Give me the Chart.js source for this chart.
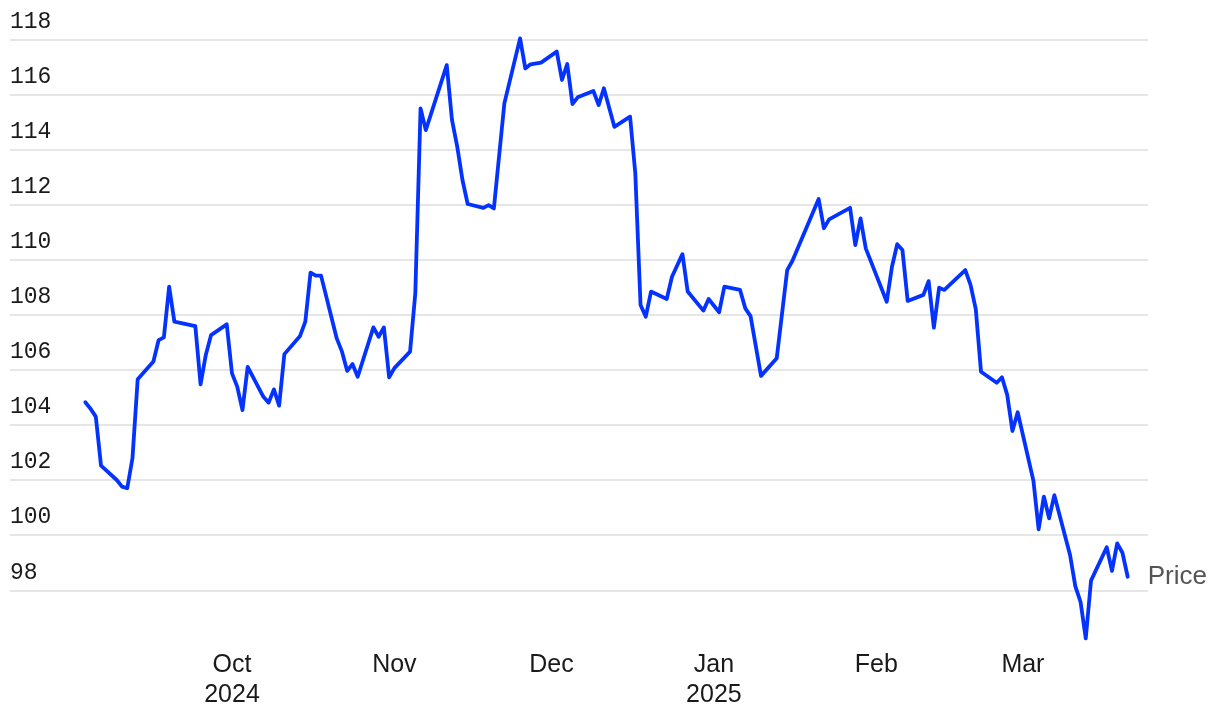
<!doctype html>
<html lang="en">

<head>
  <meta charset="utf-8">
  <title>Price</title>
  <script src="https://cdn.jsdelivr.net/npm/chart.js"></script>
  <style>
    body { margin: 0; background: #fff; }
    #wrap { width: 1220px; height: 718px; }
  </style>
</head>

<body>
  <div id="wrap"><canvas id="price"></canvas></div>

  <script>
    // daily closes
    const dates = [
      '2024-09-03', '2024-09-04', '2024-09-05', '2024-09-06', '2024-09-09', '2024-09-10', '2024-09-11', '2024-09-12',
      '2024-09-13', '2024-09-16', '2024-09-17', '2024-09-18', '2024-09-19', '2024-09-20', '2024-09-24', '2024-09-25',
      '2024-09-26', '2024-09-27', '2024-09-30', '2024-10-01', '2024-10-02', '2024-10-03', '2024-10-04', '2024-10-07',
      '2024-10-08', '2024-10-09', '2024-10-10', '2024-10-11', '2024-10-14', '2024-10-15', '2024-10-16', '2024-10-17',
      '2024-10-18', '2024-10-21', '2024-10-22', '2024-10-23', '2024-10-24', '2024-10-25', '2024-10-28', '2024-10-29',
      '2024-10-30', '2024-10-31', '2024-11-01', '2024-11-04', '2024-11-05', '2024-11-06', '2024-11-07', '2024-11-11',
      '2024-11-12', '2024-11-13', '2024-11-14', '2024-11-15', '2024-11-18', '2024-11-19', '2024-11-20', '2024-11-22',
      '2024-11-25', '2024-11-26', '2024-11-27', '2024-11-29', '2024-12-02', '2024-12-03', '2024-12-04', '2024-12-05',
      '2024-12-06', '2024-12-09', '2024-12-10', '2024-12-11', '2024-12-13', '2024-12-16', '2024-12-17', '2024-12-18',
      '2024-12-19', '2024-12-20', '2024-12-23', '2024-12-24', '2024-12-26', '2024-12-27', '2024-12-30', '2024-12-31',
      '2025-01-02', '2025-01-03', '2025-01-06', '2025-01-07', '2025-01-08', '2025-01-10', '2025-01-13', '2025-01-15',
      '2025-01-16', '2025-01-21', '2025-01-22', '2025-01-23', '2025-01-27', '2025-01-28', '2025-01-29', '2025-01-30',
      '2025-02-03', '2025-02-04', '2025-02-05', '2025-02-06', '2025-02-07', '2025-02-10', '2025-02-11', '2025-02-12',
      '2025-02-13', '2025-02-14', '2025-02-18', '2025-02-19', '2025-02-20', '2025-02-21', '2025-02-24', '2025-02-25',
      '2025-02-26', '2025-02-27', '2025-02-28', '2025-03-03', '2025-03-04', '2025-03-05', '2025-03-06', '2025-03-07',
      '2025-03-10', '2025-03-11', '2025-03-12', '2025-03-13', '2025-03-14', '2025-03-17', '2025-03-18', '2025-03-19',
      '2025-03-20', '2025-03-21'
    ]
    const prices = [
      104.83, 104.60, 104.31, 102.53, 102.01, 101.77, 101.71, 102.80,
      105.67, 106.31, 107.09, 107.19, 109.03, 107.76, 107.60, 105.48,
      106.55, 107.27, 107.66, 105.88, 105.40, 104.55, 106.12, 105.03,
      104.82, 105.30, 104.71, 106.58, 107.24, 107.76, 109.54, 109.43,
      109.43, 107.15, 106.67, 105.97, 106.22, 105.76, 107.55, 107.21,
      107.55, 105.74, 106.07, 106.67, 108.79, 115.50, 114.71, 117.07,
      115.08, 114.11, 112.90, 112.03, 111.89, 111.99, 111.87, 115.68,
      118.04, 116.95, 117.10, 117.16, 117.56, 116.53, 117.11, 115.66,
      115.90, 116.13, 115.62, 116.23, 114.83, 115.20, 113.14, 108.36,
      107.94, 108.85, 108.58, 109.39, 110.21, 108.85, 108.16, 108.58,
      108.10, 109.03, 108.91, 108.24, 107.96, 105.79, 106.43, 109.63,
      109.97, 112.21, 111.15, 111.47, 111.89, 110.54, 111.51, 110.42,
      108.48, 109.75, 110.57, 110.36, 108.51, 108.73, 109.23, 107.54,
      108.99, 108.91, 109.63, 109.09, 108.21, 105.94, 105.54, 105.74,
      105.10, 103.79, 104.47, 101.99, 100.22, 101.41, 100.62, 101.46,
      99.29, 98.16, 97.59, 96.26, 98.36, 99.57, 98.71, 99.71,
      99.37, 98.50
    ]
    const yTicks = [98, 100, 102, 104, 106, 108, 110, 112, 114, 116, 118]
    const monthTicks = ['2024-10-01', '2024-11-01', '2024-12-01', '2025-01-01', '2025-02-01', '2025-03-01']
    const monthLabels = [['Oct', '2024'], ['Nov'], ['Dec'], ['Jan', '2025'], ['Feb'], ['Mar']]
    const seriesName = 'Price'

    const dayNum = (s) => {
      const [y, m, d] = s.split('-').map(Number)
      return Date.UTC(y, m - 1, d) / 86400000
    }

    const points = dates.map((d, i) => ({ x: dayNum(d), y: prices[i] }))
    const oct1 = dayNum('2024-10-01')

    // end label next to the last point
    const endLabel = {
      id: 'endLabel',
      afterDatasetsDraw(chart) {
        const meta = chart.getDatasetMeta(0)
        const last = meta.data[meta.data.length - 1]
        const ctx = chart.ctx
        ctx.save()
        ctx.font = '26px "Liberation Sans", Arial, sans-serif'
        ctx.fillStyle = '#555'
        ctx.textAlign = 'left'
        ctx.textBaseline = 'middle'
        ctx.fillText(seriesName, last.x + 20, last.y)
        ctx.restore()
      }
    }

    new Chart(document.getElementById('price'), {
      type: 'line',
      data: {
        datasets: [{
          label: seriesName,
          data: points,
          borderColor: '#0433ff',
          borderWidth: 3.8,
          pointRadius: 0,
          tension: 0,
          borderJoinStyle: 'round',
          borderCapStyle: 'round',
          clip: false
        }]
      },
      options: {
        responsive: true,
        maintainAspectRatio: false,
        animation: false,
        layout: { padding: { left: 10, right: 72, top: 39.5, bottom: 3.4 } },
        plugins: {
          legend: { display: false },
          tooltip: { enabled: false }
        },
        scales: {
          x: {
            type: 'linear',
            min: oct1 - 42.38,
            max: oct1 + 174.88,
            afterBuildTicks: (scale) => {
              scale.ticks = monthTicks.map(d => ({ value: dayNum(d) }))
            },
            grid: { display: false, drawTicks: false },
            border: { display: false },
            ticks: {
              callback: (v, i) => monthLabels[i],
              color: '#1a1a1a',
              font: { family: '"Liberation Sans", Arial, sans-serif', size: 25, lineHeight: 1.2 },
              padding: 4.5,
              maxRotation: 0,
              autoSkip: false
            }
          },
          y: {
            min: 96,
            max: 118,
            afterBuildTicks: (scale) => {
              scale.ticks = yTicks.map(v => ({ value: v }))
            },
            grid: { color: '#e6e6e6', lineWidth: 2, drawTicks: false },
            border: { display: false },
            ticks: {
              mirror: true,
              padding: 0,
              labelOffset: -18,
              color: '#1a1a1a',
              font: { family: '"Liberation Mono", "DejaVu Sans Mono", monospace', size: 23 }
            }
          }
        }
      },
      plugins: [endLabel]
    })
  </script>
</body>

</html>
